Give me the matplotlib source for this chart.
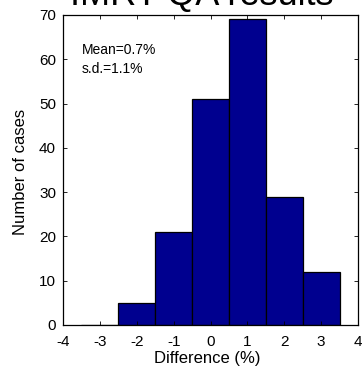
import numpy as np
import matplotlib
matplotlib.use('Agg')
import matplotlib.pyplot as plt

# histogram of dose differences, bin centres and counts
bin_centres = [-3, -2, -1, 0, 1, 2, 3]
counts = [0, 5, 21, 51, 69, 29, 12]
xticks = [-4, -3, -2, -1, 0, 1, 2, 3, 4]
yticks = [0, 10, 20, 30, 40, 50, 60, 70]

plt.rcParams['font.family'] = ['Liberation Sans', 'DejaVu Sans']
plt.rcParams['axes.unicode_minus'] = False

fig = plt.figure(figsize=(3.64, 3.76), dpi=100)
# axes box in pixels: left 63, right 358, top 15, bottom 325
ax = fig.add_axes([63/364, 1 - 325/376, (358-63)/364, (325-15)/376])

ax.bar(bin_centres, counts, width=1.0, color='#00008F', edgecolor='black', linewidth=0.9)

ax.set_xlim(-4, 4)
ax.set_ylim(0, 70)
ax.set_xticks(xticks)
ax.set_yticks(yticks)
ax.tick_params(direction='in', length=3, width=0.6, top=True, right=True,
               labelsize=11)
ax.tick_params(axis='x', pad=7.5)
ax.tick_params(axis='y', pad=5)
for s in ax.spines.values():
    s.set_linewidth(0.9)

ax.set_xlabel('Difference (%)', fontsize=12)
ax.xaxis.set_label_coords(0.49, -0.083)
ax.set_ylabel('Number of cases', fontsize=12)
ax.yaxis.set_label_coords(-0.12, 0.495)

# title sits mostly above the figure edge, as in the original
fig.text(202/364, 1 - 5.5/376, 'IMRT QA results', fontsize=26,
         ha='center', va='baseline')

ax.text(0.063, 0.873, 'Mean=0.7%', transform=ax.transAxes,
        fontsize=10, va='baseline', ha='left')
ax.text(0.063, 0.812, 's.d.=1.1%', transform=ax.transAxes,
        fontsize=10, va='baseline', ha='left')

fig.savefig('out.png', dpi=100)
